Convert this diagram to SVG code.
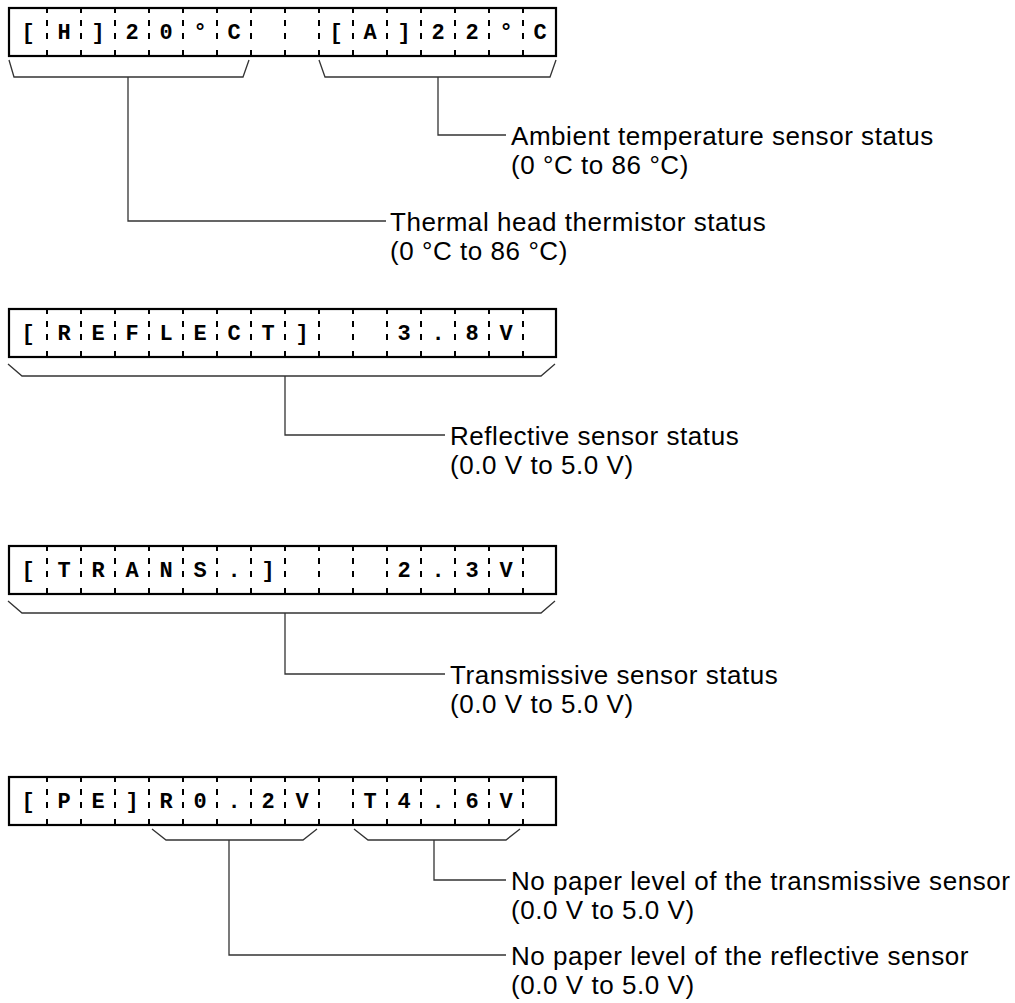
<svg xmlns="http://www.w3.org/2000/svg" width="1015" height="1003" viewBox="0 0 1015 1003">
<style>
.box{fill:#fff;stroke:#000;stroke-width:2.2}
.div{stroke:#000;stroke-width:2;stroke-dasharray:5 7 6 7 6 11 6 100}
.ch{font-family:"Liberation Mono","Courier New",monospace;font-weight:bold;font-size:22px;fill:#000;text-anchor:middle}
.lbl{font-family:"Liberation Sans",Arial,sans-serif;font-size:26px;letter-spacing:0.55px;fill:#000}
.con{fill:none;stroke:#333;stroke-width:1.3}
</style>
<defs>
<g id="grid">
<rect class="box" x="9" y="0" width="547" height="48"/>
<path class="div" d="M47,0V48M81,0V48M115,0V48M149,0V48M183,0V48M217,0V48M251,0V48M285,0V48M319,0V48M353,0V48M387,0V48M421,0V48M455,0V48M489,0V48M523,0V48"/>
</g>
</defs>

<g id="box1" transform="translate(0,8)">
<use href="#grid"/>
<text class="ch" x="28" y="31">[</text><text class="ch" x="64" y="31">H</text><text class="ch" x="98" y="31">]</text><text class="ch" x="132" y="31">2</text><text class="ch" x="166" y="31">0</text><text class="ch" x="200" y="31">°</text><text class="ch" x="234" y="31">C</text>
<text class="ch" x="336" y="31">[</text><text class="ch" x="370" y="31">A</text><text class="ch" x="404" y="31">]</text><text class="ch" x="438" y="31">2</text><text class="ch" x="472" y="31">2</text><text class="ch" x="506" y="31">°</text><text class="ch" x="540" y="31">C</text>
</g>

<g id="box2" transform="translate(0,309)">
<use href="#grid"/>
<text class="ch" x="28" y="31">[</text><text class="ch" x="64" y="31">R</text><text class="ch" x="98" y="31">E</text><text class="ch" x="132" y="31">F</text><text class="ch" x="166" y="31">L</text><text class="ch" x="200" y="31">E</text><text class="ch" x="234" y="31">C</text><text class="ch" x="268" y="31">T</text><text class="ch" x="302" y="31">]</text>
<text class="ch" x="404" y="31">3</text><text class="ch" x="438" y="31">.</text><text class="ch" x="472" y="31">8</text><text class="ch" x="506" y="31">V</text>
</g>

<g id="box3" transform="translate(0,546)">
<use href="#grid"/>
<text class="ch" x="28" y="31">[</text><text class="ch" x="64" y="31">T</text><text class="ch" x="98" y="31">R</text><text class="ch" x="132" y="31">A</text><text class="ch" x="166" y="31">N</text><text class="ch" x="200" y="31">S</text><text class="ch" x="234" y="31">.</text><text class="ch" x="268" y="31">]</text>
<text class="ch" x="404" y="31">2</text><text class="ch" x="438" y="31">.</text><text class="ch" x="472" y="31">3</text><text class="ch" x="506" y="31">V</text>
</g>

<g id="box4" transform="translate(0,777)">
<use href="#grid"/>
<text class="ch" x="28" y="31">[</text><text class="ch" x="64" y="31">P</text><text class="ch" x="98" y="31">E</text><text class="ch" x="132" y="31">]</text>
<text class="ch" x="166" y="31">R</text><text class="ch" x="200" y="31">0</text><text class="ch" x="234" y="31">.</text><text class="ch" x="268" y="31">2</text><text class="ch" x="302" y="31">V</text>
<text class="ch" x="370" y="31">T</text><text class="ch" x="404" y="31">4</text><text class="ch" x="438" y="31">.</text><text class="ch" x="472" y="31">6</text><text class="ch" x="506" y="31">V</text>
</g>

<g id="connectors">
<path class="con" d="M9,60L14,77H243L249,60"/>
<path class="con" d="M128,77V221H386"/>
<path class="con" d="M319,60L325,77H550L556,60"/>
<path class="con" d="M438,77V135H506"/>
<path class="con" d="M8,364L22,376H541L555,364"/>
<path class="con" d="M285,376V435H445"/>
<path class="con" d="M8,601L22,613H541L555,601"/>
<path class="con" d="M285,613V674H445"/>
<path class="con" d="M152,829L166,840H303L317,829"/>
<path class="con" d="M229,840V955H506"/>
<path class="con" d="M354,829L368,840H506L520,829"/>
<path class="con" d="M434,840V880H506"/>
</g>

<g id="label-ambient"><text class="lbl" x="511" y="145">Ambient temperature sensor status</text><text class="lbl" x="511" y="174">(0 °C to 86 °C)</text></g>
<g id="label-thermal"><text class="lbl" x="390" y="231">Thermal head thermistor status</text><text class="lbl" x="390" y="260">(0 °C to 86 °C)</text></g>
<g id="label-reflective"><text class="lbl" x="450" y="445">Reflective sensor status</text><text class="lbl" x="450" y="474">(0.0 V to 5.0 V)</text></g>
<g id="label-transmissive"><text class="lbl" x="450" y="684">Transmissive sensor status</text><text class="lbl" x="450" y="713">(0.0 V to 5.0 V)</text></g>
<g id="label-np-trans"><text class="lbl" x="511" y="890">No paper level of the transmissive sensor</text><text class="lbl" x="511" y="919">(0.0 V to 5.0 V)</text></g>
<g id="label-np-refl"><text class="lbl" x="511" y="965">No paper level of the reflective sensor</text><text class="lbl" x="511" y="994">(0.0 V to 5.0 V)</text></g>
</svg>
